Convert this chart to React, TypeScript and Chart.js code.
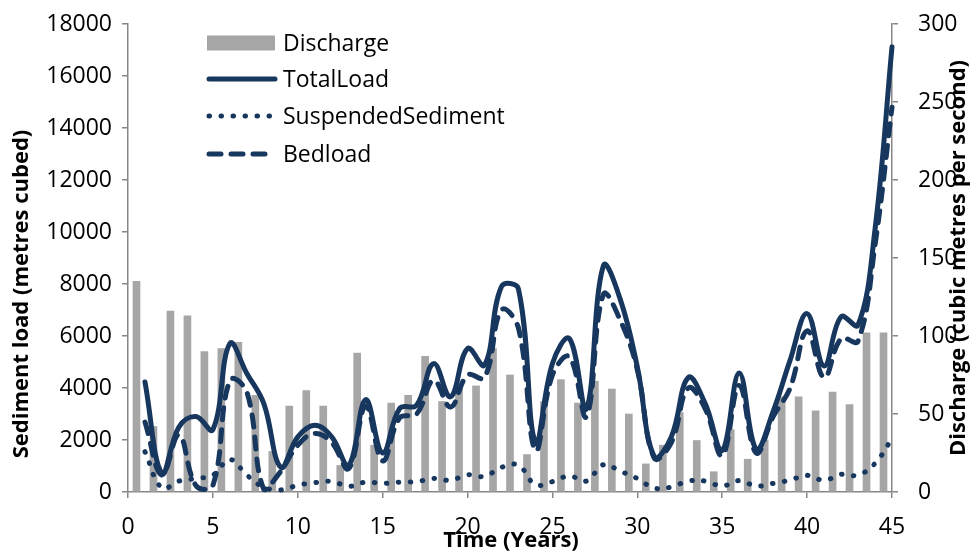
import React, { useEffect, useRef } from 'react';
import { Chart, registerables } from 'chart.js';

Chart.register(...registerables);

// ---- Data ----
const years = [1, 2, 3, 4, 5, 6, 7, 8, 9, 10, 11, 12, 13, 14, 15, 16, 17, 18, 19, 20, 21, 22, 23, 24, 25, 26, 27, 28, 29, 30, 31, 32, 33, 34, 35, 36, 37, 38, 39, 40, 41, 42, 43, 44, 45];

const discharge = [135, 42, 116, 113, 90, 92, 96, 62, 26, 55, 65, 55, 17, 89, 30, 57, 62, 87, 58, 67, 68, 92, 75, 24, 58, 72, 57, 71, 66, 50, 18, 30, 51, 33, 13, 40, 21, 33, 61, 61, 52, 64, 56, 102, 102];

const totalLoad = [4230, 720, 2500, 2900, 2400, 5710, 4560, 3400, 950, 2120, 2570, 2120, 1030, 3550, 1500, 3210, 3340, 4940, 3660, 5520, 4880, 7900, 7800, 1900, 4940, 5900, 3200, 8700, 7400, 4810, 1350, 2120, 4400, 3400, 1600, 4580, 1650, 3100, 5070, 6860, 4850, 6740, 6420, 10100, 17120];

const suspendedSediment = [1550, 150, 420, 520, 650, 1250, 650, 180, 80, 260, 360, 410, 220, 380, 330, 380, 400, 520, 450, 660, 600, 950, 1030, 280, 400, 620, 420, 1050, 800, 520, 150, 190, 420, 420, 230, 440, 230, 330, 460, 640, 450, 680, 650, 1100, 2050];

const bedload = [2690, 650, 2200, 250, 250, 4300, 3850, 100, 800, 1800, 2250, 1900, 900, 3300, 1200, 2850, 3000, 4300, 3270, 4500, 4400, 7000, 6300, 1600, 4500, 5200, 2900, 7600, 6600, 4700, 1300, 1900, 4000, 3200, 1400, 4100, 1500, 2900, 4000, 6200, 4400, 5900, 5800, 9500, 14800];

const leftTicks = { min: 0, max: 18000, step: 2000 };
const rightTicks = { min: 0, max: 300, step: 50 };
const xTicks = { min: 0, max: 45, step: 5 };

const xTitle = 'Time (Years)';
const leftTitle = 'Sediment load (metres cubed)';
const rightTitle = 'Discharge (cubic metres per second)';

// ---- Styles ----
const NAVY = '#17375E';
const GREY = '#A6A6A6';
const AXIS = '#878787';
const FONT = "'Open Sans', sans-serif";

const overlayPlugin = {
  id: 'overlay',
  afterDraw(chart: any) {
    const { ctx, chartArea } = chart;
    const { left, top, right } = chartArea;
    const ds = chart.data.datasets;
    ctx.save();
    // legend
    const lx = left + 79;
    const tx = left + 155;
    const rows = [top + 19, top + 55, top + 92, top + 130];
    const order = [3, 0, 1, 2];
    ctx.font = `23px ${FONT}`;
    ctx.textBaseline = 'middle';
    ctx.textAlign = 'left';
    order.forEach((di, i) => {
      const d = ds[di];
      const y = rows[i];
      if (d.type === 'bar') {
        ctx.fillStyle = d.backgroundColor;
        ctx.fillRect(lx, y - 7.5, 68, 15);
      } else {
        ctx.strokeStyle = d.borderColor;
        ctx.lineWidth = d.borderWidth;
        ctx.lineCap = 'round';
        ctx.setLineDash(d.borderDash || []);
        ctx.beginPath();
        ctx.moveTo(lx + 2, y);
        ctx.lineTo(lx + 68, y);
        ctx.stroke();
        ctx.setLineDash([]);
      }
      ctx.fillStyle = '#000';
      ctx.fillText(d.label, tx, y + 1);
    });
    // titles
    ctx.font = `bold 22px ${FONT}`;
    ctx.fillStyle = '#000';
    ctx.textAlign = 'center';
    ctx.textBaseline = 'middle';
    ctx.fillText(xTitle, (left + right) / 2 + 1, 541);
    ctx.save();
    ctx.translate(22, 294);
    ctx.rotate(-Math.PI / 2);
    ctx.fillText(leftTitle, 0, 0);
    ctx.restore();
    ctx.save();
    ctx.translate(959, 258);
    ctx.rotate(-Math.PI / 2);
    ctx.fillText(rightTitle, 0, 0);
    ctx.restore();
    ctx.restore();
  },
};

export default function App() {
  const ref = useRef<HTMLCanvasElement | null>(null);

  useEffect(() => {
    document.body.style.margin = '0';
    const canvas = ref.current;
    if (!canvas) return;
    const pts = (vals: number[]) => years.map((x, i) => ({ x, y: vals[i] }));
    const barPts = years.map((x, i) => ({ x: x - 0.5, y: discharge[i] }));
    const tickFont = { family: FONT, size: 23 };
    const fitV = (w: number) => (s: any) => {
      s.width = w;
      s.paddingTop = 8;
      s.paddingBottom = 8;
    };

    const chart = new Chart(canvas, {
      type: 'line',
      data: {
        datasets: [
          {
            label: 'TotalLoad',
            data: pts(totalLoad),
            borderColor: NAVY,
            borderWidth: 5,
            borderCapStyle: 'round',
            borderJoinStyle: 'round',
            pointRadius: 0,
            tension: 0.4,
            fill: false,
            yAxisID: 'y',
            order: 1,
            clip: false,
          },
          {
            label: 'SuspendedSediment',
            data: pts(suspendedSediment),
            borderColor: NAVY,
            borderWidth: 5,
            borderDash: [0.5, 11.5],
            borderCapStyle: 'round',
            pointRadius: 0,
            tension: 0.4,
            fill: false,
            yAxisID: 'y',
            order: 3,
            clip: false,
          },
          {
            label: 'Bedload',
            data: pts(bedload),
            borderColor: NAVY,
            borderWidth: 5,
            borderDash: [12, 10],
            borderCapStyle: 'round',
            pointRadius: 0,
            tension: 0.4,
            fill: false,
            yAxisID: 'y',
            order: 2,
            clip: false,
          },
          {
            type: 'bar',
            label: 'Discharge',
            data: barPts,
            backgroundColor: GREY,
            borderWidth: 0,
            barThickness: 7,
            yAxisID: 'y1',
            order: 4,
          },
        ] as any,
      },
      options: {
        responsive: false,
        animation: false,
        devicePixelRatio: 1,
        layout: { padding: { top: 24, left: 0, right: 0, bottom: 0 } },
        plugins: {
          legend: { display: false },
          tooltip: { enabled: false },
        },
        scales: {
          x: {
            type: 'linear',
            min: xTicks.min,
            max: xTicks.max,
            offset: false,
            ticks: { stepSize: xTicks.step, font: tickFont, color: '#000', padding: 16, maxRotation: 0 },
            grid: { offset: false, drawOnChartArea: false, drawTicks: true, tickLength: 6, color: AXIS, lineWidth: 1.5 },
            border: { color: AXIS, width: 1.5 },
            afterFit: (s: any) => { s.height = 60; s.paddingLeft = 0; s.paddingRight = 0; },
          },
          y: {
            type: 'linear',
            position: 'left',
            min: leftTicks.min,
            max: leftTicks.max,
            ticks: { stepSize: leftTicks.step, font: tickFont, color: '#000', padding: 10, callback: (v: any) => String(v) },
            grid: { drawOnChartArea: false, drawTicks: true, tickLength: 6, color: AXIS, lineWidth: 1.5 },
            border: { color: AXIS, width: 1.5 },
            afterFit: fitV(128),
          },
          y1: {
            type: 'linear',
            position: 'right',
            min: rightTicks.min,
            max: rightTicks.max,
            ticks: { stepSize: rightTicks.step, font: tickFont, color: '#000', padding: 20, callback: (v: any) => String(v) },
            grid: { drawOnChartArea: false, drawTicks: true, tickLength: 6, color: AXIS, lineWidth: 1.5 },
            border: { color: AXIS, width: 1.5 },
            afterFit: fitV(87),
          },
        },
      } as any,
      plugins: [overlayPlugin],
    });
    return () => chart.destroy();
  }, []);

  return (
    <div style={{ position: 'absolute', left: 0, top: 0, width: 979, height: 552, background: '#fff' }}>
      <canvas ref={ref} width={979} height={552} style={{ width: 979, height: 552 }} />
    </div>
  );
}
